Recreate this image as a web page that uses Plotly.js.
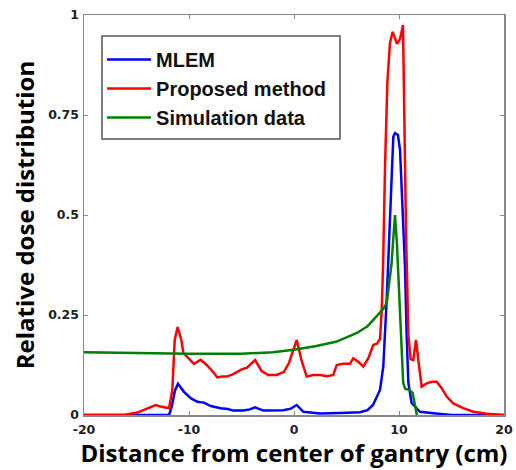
<!DOCTYPE html>
<html>
<head>
<meta charset="utf-8">
<script src="https://cdn.plot.ly/plotly-3.0.1.min.js"></script>
<style>html,body{margin:0;padding:0;background:#fff;}#chart{width:516px;height:470px;}</style>
</head>
<body>
<div id="chart"></div>
<script>
// MLEM
const mlemX = [-20, -11.9, -11.65, -11.35, -11.05, -10.48, -9.84, -9.2, -8.57, -7.93, -6.98, -6.3, -5.78, -4.83, -4.2, -3.71, -2.92, -1.02, -0.3, 0.26, 0.89, 2.48, 4.38, 6.29, 7.0, 7.52, 8.19, 8.5, 8.83, 9.08, 9.3, 9.46, 9.62, 9.9, 10.1, 10.31, 10.57, 10.73, 10.89, 11.2, 12.0, 13.5, 15, 20];
const mlemY = [0, 0, 0.02, 0.06, 0.078, 0.058, 0.042, 0.033, 0.031, 0.0225, 0.017, 0.015, 0.011, 0.011, 0.014, 0.019, 0.011, 0.012, 0.016, 0.025, 0.008, 0.004, 0.005, 0.007, 0.012, 0.025, 0.0625, 0.12, 0.29, 0.455, 0.62, 0.696, 0.705, 0.70, 0.6625, 0.54, 0.37, 0.20, 0.08, 0.03, 0.008, 0.004, 0, 0];
// Proposed method
const propX = [-20, -16.19, -14.92, -13.97, -13.17, -12.70, -11.90, -11.59, -11.36, -11.08, -10.73, -10.54, -10.0, -9.52, -8.89, -8.31, -7.78, -7.30, -6.86, -6.41, -5.78, -4.98, -4.50, -3.71, -3.08, -2.45, -1.65, -0.95, -0.48, 0.26, 0.73, 1.21, 1.81, 2.48, 3.14, 3.74, 4.07, 4.70, 5.33, 5.65, 6.12, 6.60, 7.08, 7.55, 7.90, 8.19, 8.35, 8.48, 8.67, 8.89, 9.14, 9.40, 9.81, 10.10, 10.38, 10.48, 10.67, 10.89, 11.11, 11.36, 11.62, 11.84, 12.16, 12.64, 13.14, 13.59, 14.07, 14.54, 15.17, 16.12, 17.08, 18.35, 20];
const propY = [0, 0, 0.006, 0.017, 0.025, 0.021, 0.017, 0.062, 0.1875, 0.22, 0.1875, 0.155, 0.14, 0.128, 0.138, 0.125, 0.11, 0.094, 0.096, 0.096, 0.102, 0.114, 0.118, 0.1375, 0.11, 0.1, 0.1, 0.108, 0.13, 0.1875, 0.135, 0.096, 0.1, 0.1, 0.097, 0.1, 0.125, 0.128, 0.128, 0.142, 0.133, 0.121, 0.142, 0.175, 0.178, 0.19, 0.26, 0.37, 0.62, 0.83, 0.93, 0.958, 0.928, 0.94, 0.975, 0.79, 0.455, 0.2, 0.14, 0.1375, 0.1875, 0.1375, 0.071, 0.079, 0.083, 0.083, 0.067, 0.046, 0.029, 0.017, 0.008, 0.003, 0];
// Simulation data
const simX = [-20, -15, -10, -5, -2, 0, 2, 4, 5, 6, 7, 8, 8.5, 8.83, 9.1, 9.3, 9.45, 9.62, 9.8, 10.0, 10.2, 10.4, 10.6, 11.0, 11.3, 11.5, 11.7];
const simY = [0.157, 0.155, 0.153, 0.153, 0.157, 0.163, 0.172, 0.183, 0.193, 0.205, 0.222, 0.25, 0.265, 0.28, 0.33, 0.38, 0.44, 0.5, 0.43, 0.31, 0.17, 0.08, 0.065, 0.063, 0.055, 0.03, 0];

const xTicks = [-20, -10, 0, 10, 20];
const xTickText = ['-20', '-10', '0', '10', '20'];
const yTicks = [0, 0.25, 0.5, 0.75, 1];
const yTickText = ['0', '0.25', '0.5', '0.75', '1'];

const traces = [
  {x: mlemX, y: mlemY, name: 'MLEM', legendgroup: 'a', mode: 'lines', line: {color: 'rgb(0,0,255)', width: 2.5}},
  {x: propX, y: propY, name: 'Proposed method', legendgroup: 'b', mode: 'lines', line: {color: 'rgb(255,0,0)', width: 2.5}},
  {x: simX, y: simY, name: 'Simulation data', legendgroup: 'c', mode: 'lines', line: {color: 'rgb(0,128,0)', width: 2.5}}
];

const axisCommon = {
  showgrid: false, zeroline: false, showline: true, linecolor: '#888', linewidth: 1.5,
  mirror: 'ticks', ticks: 'inside', ticklen: 4, tickcolor: '#888', tickwidth: 1,
  tickfont: {family: 'DejaVu Sans, sans-serif', size: 12.5, color: '#222', weight: 'bold'}
};

const layout = {
  width: 516, height: 470,
  margin: {l: 84, r: 12, t: 15, b: 55},
  paper_bgcolor: '#fff', plot_bgcolor: '#fff',
  showlegend: true,
  xaxis: Object.assign({}, axisCommon, {
    range: [-20, 20], tickvals: xTicks, ticktext: xTickText, ticklabelstandoff: 2,
    title: {text: 'Distance from center of gantry (cm)', standoff: 0,
      font: {family: 'Open Sans, sans-serif', size: 24, color: '#000', weight: 'bold'}}
  }),
  yaxis: Object.assign({}, axisCommon, {
    range: [0, 1], tickvals: yTicks, ticktext: yTickText, ticklabelstandoff: 1,
    title: {text: 'Relative dose distribution', standoff: 7,
      font: {family: 'Open Sans, sans-serif', size: 24, color: '#000', weight: 'bold'}}
  }),
  shapes: [
    {type: 'rect', xref: 'paper', yref: 'paper', x0: 0.0429, x1: 0.6095, y0: 0.69, y1: 0.9475,
     line: {color: '#555', width: 1.5}, fillcolor: '#fff', layer: 'above'}
  ],
  legend: {
    x: 0.043, y: 0.9375, xanchor: 'left', yanchor: 'top',
    bgcolor: 'rgba(0,0,0,0)', borderwidth: 0,
    itemwidth: 44, traceorder: 'grouped', tracegroupgap: 0,
    font: {family: 'Liberation Sans, Arial, sans-serif', size: 20, color: '#111', weight: 'bold'}
  }
};

Plotly.newPlot('chart', traces, layout, {displayModeBar: false, staticPlot: true});
</script>
</body>
</html>
